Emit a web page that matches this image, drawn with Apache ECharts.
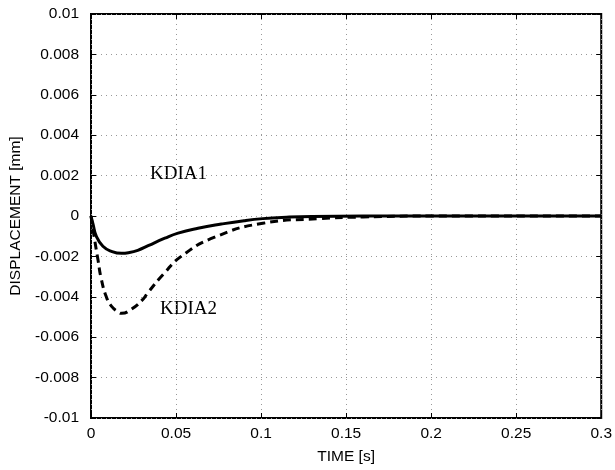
<!DOCTYPE html>
<html>
<head>
<meta charset="utf-8">
<script src="https://cdn.jsdelivr.net/npm/echarts@6/dist/echarts.min.js"></script>
<style>html,body{margin:0;padding:0;background:#fff}#c{width:615px;height:470px}</style>
</head>
<body>
<div id="c"></div>
<script>
const xTicks = [0, 0.05, 0.1, 0.15, 0.2, 0.25, 0.3];
const yTicks = [-0.01, -0.008, -0.006, -0.004, -0.002, 0, 0.002, 0.004, 0.006, 0.008, 0.01];
const kdia1T = [0, 0.0012, 0.0031, 0.007, 0.012, 0.018, 0.022, 0.0275, 0.0336, 0.0434, 0.0512, 0.0629, 0.0766, 0.09, 0.101, 0.115, 0.13, 0.16, 0.2, 0.3];
const kdia1V = [0, -0.0004, -0.001, -0.0015, -0.00175, -0.00185, -0.00182, -0.0017, -0.00147, -0.0011, -0.00085, -0.00061, -0.0004, -0.00023, -0.00013, -0.00006, -0.00002, 0, 0, 0];
const kdia2T = [0, 0.0018, 0.0041, 0.006, 0.009, 0.012, 0.016, 0.018, 0.0236, 0.0305, 0.0334, 0.0424, 0.053, 0.0727, 0.101, 0.134, 0.16, 0.2, 0.3];
const kdia2V = [0, -0.001, -0.00217, -0.0031, -0.004, -0.00446, -0.00475, -0.00482, -0.00462, -0.00413, -0.0038, -0.0029, -0.002, -0.00105, -0.00036, -0.00013, -0.00005, 0, 0];

const fmt = v => String(parseFloat(v.toFixed(4)));
const lab = {color:'#000', fontFamily:'Liberation Sans', fontSize:15.5};
const grid = {left:91, right:12, top:14, bottom:52, show:true, borderColor:'#000', borderWidth:2};
const split = {show:true, lineStyle:{color:'#999', type:[1,4], width:1}};
const tick = {inside:true, length:5, lineStyle:{color:'#000'}};

const chart = echarts.init(document.getElementById('c'));
chart.setOption({
  animation:false,
  grid: grid,
  xAxis: [{
    type:'value', min:0, max:0.3, interval:0.05,
    axisLine:{show:false, onZero:false}, axisTick:tick,
    axisLabel:Object.assign({formatter:fmt, margin:8}, lab),
    splitLine:split,
    name:'TIME [s]', nameLocation:'middle', nameGap:31, nameTextStyle:lab
  },{
    type:'value', position:'top', min:0, max:0.3, interval:0.05,
    axisLine:{show:false, onZero:false}, axisTick:tick,
    axisLabel:{show:false}, splitLine:{show:false}
  }],
  yAxis: [{
    type:'value', min:-0.01, max:0.01, interval:0.002,
    axisLine:{show:false, onZero:false}, axisTick:tick,
    axisLabel:Object.assign({formatter:fmt, margin:12}, lab),
    splitLine:split,
    name:'DISPLACEMENT [mm]', nameLocation:'middle', nameGap:66, nameTextStyle:lab
  },{
    type:'value', position:'right', min:-0.01, max:0.01, interval:0.002,
    axisLine:{show:false, onZero:false}, axisTick:tick,
    axisLabel:{show:false}, splitLine:{show:false}
  }],
  series: [{
    name:'KDIA1', type:'line', smooth:0.5, symbol:'none',
    data: kdia1T.map((t,i)=>[t, kdia1V[i]]),
    lineStyle:{color:'#000', width:3}
  },{
    name:'KDIA2', type:'line', smooth:0.5, symbol:'none',
    data: kdia2T.map((t,i)=>[t, kdia2V[i]]),
    lineStyle:{color:'#000', width:3, type:[8,5]}
  }],
  graphic: [
    {type:'text', left:150, top:165, style:{text:'KDIA1', font:'19px "Liberation Serif"', fill:'#000'}},
    {type:'text', left:160, top:300, style:{text:'KDIA2', font:'19px "Liberation Serif"', fill:'#000'}}
  ]
});
</script>
</body>
</html>
